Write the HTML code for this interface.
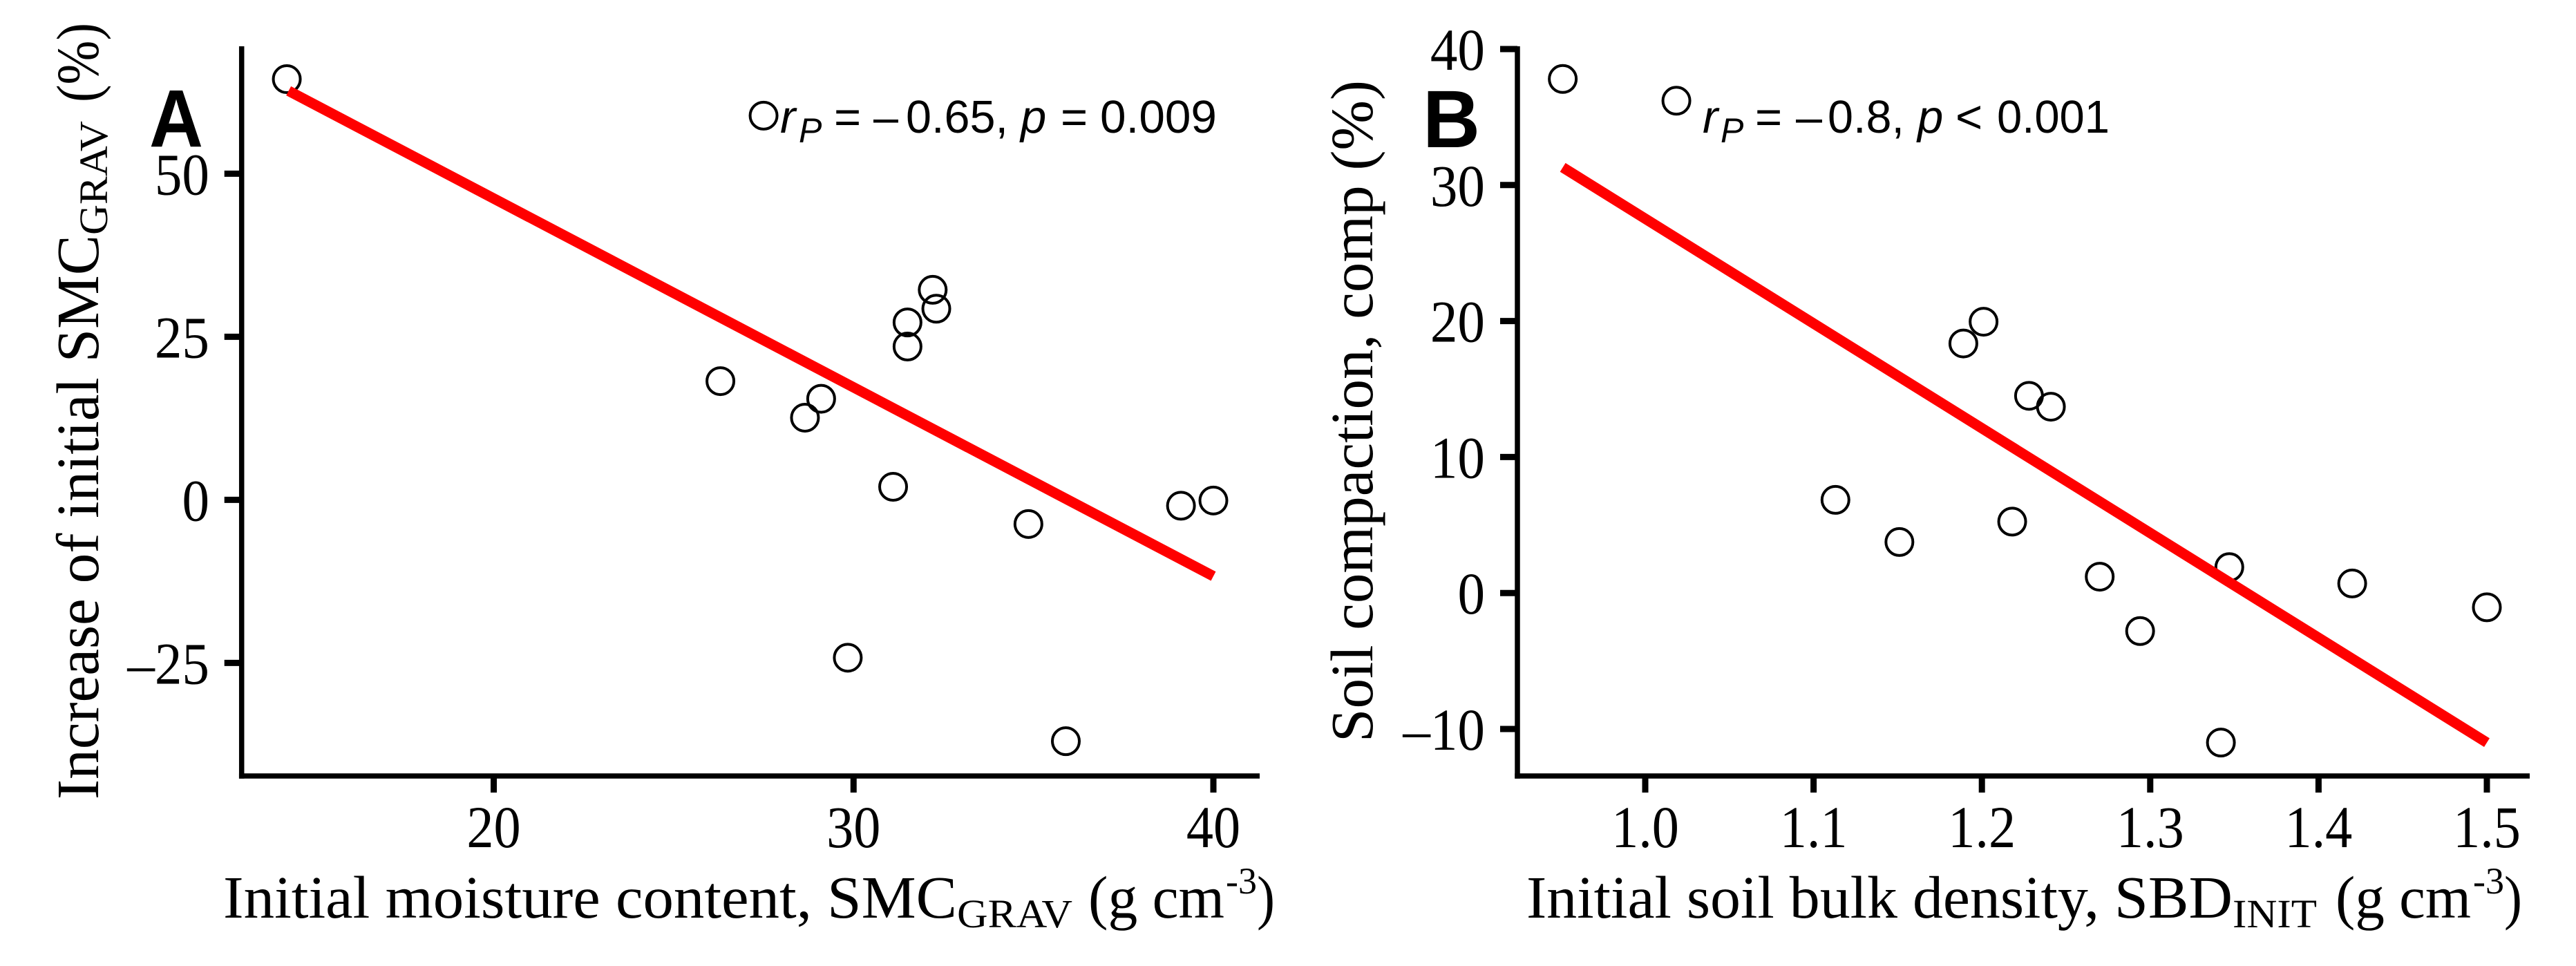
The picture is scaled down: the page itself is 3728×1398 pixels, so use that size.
<!DOCTYPE html>
<html lang="en">
<head>
<meta charset="utf-8">
<title>Soil moisture and compaction scatter plots</title>
<style>
html,body{margin:0;padding:0;background:#fff;width:3728px;height:1398px;overflow:hidden}
svg{display:block}
text{fill:#000}
.serif{font-family:"Liberation Serif",serif}
.sans{font-family:"Liberation Sans",sans-serif}
.title{font-size:87px}
.sub{font-size:58px}
.sup{font-size:54px}
.ann{font-size:67px}
.annsub{font-size:50px}
.it{font-style:italic}
.letter{font-size:118px;font-weight:bold}
.tick{font-size:86px}
</style>
</head>
<body>
<svg id="figure" xmlns="http://www.w3.org/2000/svg" width="3728" height="1398" viewBox="0 0 3728 1398">
  <rect x="0" y="0" width="3728" height="1398" fill="#fff"/>

  <g id="panel-a"></g>
  <g id="panel-b"></g>

  <g class="serif">
    <text class="title" x="323" y="1328" textLength="1062" lengthAdjust="spacingAndGlyphs">Initial moisture content, SMC</text>
    <text class="sub" x="1385" y="1342" textLength="167" lengthAdjust="spacingAndGlyphs">GRAV</text>
    <text class="title" x="1575" y="1328" textLength="197" lengthAdjust="spacingAndGlyphs">(g cm</text>
    <text class="sup" x="1774" y="1293" textLength="45" lengthAdjust="spacingAndGlyphs">-3</text>
    <text class="title" x="1819" y="1328" textLength="26" lengthAdjust="spacingAndGlyphs">)</text>
  </g>
  <g class="serif">
    <text class="title" transform="translate(142,1157) rotate(-90)" textLength="817" lengthAdjust="spacingAndGlyphs">Increase of initial SMC</text>
    <text class="sub" transform="translate(155,340) rotate(-90)" textLength="165" lengthAdjust="spacingAndGlyphs">GRAV</text>
    <text class="title" transform="translate(142,148) rotate(-90)" textLength="115" lengthAdjust="spacingAndGlyphs">(%)</text>
  </g>
  <text class="sans letter" x="216" y="212" textLength="78" lengthAdjust="spacingAndGlyphs">A</text>
  <g class="sans">
    <text class="ann it" x="1129" y="192">r</text>
    <text class="annsub it" x="1156" y="206">P</text>
    <text class="ann" x="1207" y="192">=</text>
    <text class="ann" x="1264" y="192" textLength="36" lengthAdjust="spacingAndGlyphs">–</text>
    <text class="ann" x="1311" y="192" textLength="148" lengthAdjust="spacingAndGlyphs">0.65,</text>
    <text class="ann it" x="1477" y="192">p</text>
    <text class="ann" x="1535" y="192">=</text>
    <text class="ann" x="1592" y="192" textLength="169" lengthAdjust="spacingAndGlyphs">0.009</text>
  </g>

  <g class="serif">
    <text class="title" x="2209" y="1328" textLength="1022" lengthAdjust="spacingAndGlyphs">Initial soil bulk density, SBD</text>
    <text class="sub" x="3231" y="1342" textLength="122" lengthAdjust="spacingAndGlyphs">INIT</text>
    <text class="title" x="3380" y="1328" textLength="196" lengthAdjust="spacingAndGlyphs">(g cm</text>
    <text class="sup" x="3579" y="1293" textLength="45" lengthAdjust="spacingAndGlyphs">-3</text>
    <text class="title" x="3624" y="1328" textLength="26" lengthAdjust="spacingAndGlyphs">)</text>
  </g>
  <text class="serif title" transform="translate(1986,1074) rotate(-90)" textLength="958" lengthAdjust="spacingAndGlyphs">Soil compaction, comp (%)</text>
  <text class="sans letter" x="2059" y="213" textLength="83" lengthAdjust="spacingAndGlyphs">B</text>
  <g class="sans">
    <text class="ann it" x="2464" y="192">r</text>
    <text class="annsub it" x="2490" y="206">P</text>
    <text class="ann" x="2540" y="192">=</text>
    <text class="ann" x="2599" y="192" textLength="38" lengthAdjust="spacingAndGlyphs">–</text>
    <text class="ann" x="2645" y="192" textLength="111" lengthAdjust="spacingAndGlyphs">0.8,</text>
    <text class="ann it" x="2775" y="192">p</text>
    <text class="ann" x="2830" y="192">&lt;</text>
    <text class="ann" x="2890" y="192" textLength="163" lengthAdjust="spacingAndGlyphs">0.001</text>
  </g>
</svg>

<script>
const aTickX = [20, 30, 40];
const aTickY = [50, 25, 0, -25];
const aPointX = [14.25, 26.3, 28.65, 29.1, 29.84, 31.1, 31.5, 31.5, 32.2, 32.3, 34.86, 35.9, 39.1, 40, 27.5];
const aPointY = [64.5, 18.2, 12.6, 15.5, -24.2, 2.0, 27.2, 23.5, 32.2, 29.3, -3.7, -37, -0.9, -0.1, 58.9];
const aFitX = [14.3, 40];
const aFitY = [62.7, -11.7];

const bTickX = [1.0, 1.1, 1.2, 1.3, 1.4, 1.5];
const bTickY = [40, 30, 20, 10, 0, -10];
const bPointX = [0.951, 1.0185, 1.113, 1.151, 1.189, 1.201, 1.218, 1.228, 1.241, 1.27, 1.294, 1.342, 1.347, 1.42, 1.5];
const bPointY = [37.8, 36.2, 6.85, 3.75, 18.35, 19.95, 5.25, 14.5, 13.7, 1.2, -2.8, -11, 1.9, 0.7, -1.05];
const bFitX = [0.951, 1.5];
const bFitY = [31.3, -11];

const SVGNS = 'http://www.w3.org/2000/svg';

function make(parent, tag, attrs) {
  const el = document.createElementNS(SVGNS, tag);
  for (const k in attrs) el.setAttribute(k, attrs[k]);
  parent.appendChild(el);
  return el;
}

function linear(v0, p0, v1, p1) {
  return function (v) { return p0 + (v - v0) * (p1 - p0) / (v1 - v0); };
}

function fmtY(v) { return v < 0 ? '–' + Math.abs(v) : String(v); }

function drawPanel(g, cfg) {
  const x = cfg.x, y = cfg.y;
  const axisW = 7.5;

  const yAxis = make(g, 'line', { x1: cfg.left, x2: cfg.left, y1: 67, y2: cfg.bottom + axisW / 2, stroke: '#000', 'stroke-width': axisW });
  
  

  const xAxis = make(g, 'line', { x1: cfg.left - axisW / 2, x2: cfg.right, y1: cfg.bottom, y2: cfg.bottom, stroke: '#000', 'stroke-width': axisW });
  
  

  cfg.tickX.forEach(function (v) {
    const t = make(g, 'line', { x1: x(v), x2: x(v), y1: cfg.bottom, y2: cfg.bottom + 24, stroke: '#000', 'stroke-width': 9 });
    
    
    const l = make(g, 'text', { x: x(v), y: 1226, 'text-anchor': 'middle', 'class': 'serif tick' });
    
    
    l.textContent = cfg.fmtX(v);
    l.setAttribute('textLength', l.getComputedTextLength() * 0.91);
    l.setAttribute('lengthAdjust', 'spacingAndGlyphs');
  });

  cfg.tickY.forEach(function (v) {
    const t = make(g, 'line', { x1: cfg.left, x2: cfg.left - 25, y1: y(v), y2: y(v), stroke: '#000', 'stroke-width': 9 });
    
    
    const l = make(g, 'text', { x: cfg.labelRight, y: y(v) + 30, 'text-anchor': 'end', 'class': 'serif tick' });
    
    
    l.textContent = fmtY(v);
    l.setAttribute('textLength', l.getComputedTextLength() * 0.92);
    l.setAttribute('lengthAdjust', 'spacingAndGlyphs');
  });

  cfg.pointX.forEach(function (v, i) {
    const c = make(g, 'circle', { cx: x(v), cy: y(cfg.pointY[i]), r: 19.5, fill: 'none', stroke: '#000', 'stroke-width': 4 });
    
    
  });

  const fit = make(g, 'line', {
    x1: x(cfg.fitX[0]), y1: y(cfg.fitY[0]),
    x2: x(cfg.fitX[1]), y2: y(cfg.fitY[1]),
    stroke: '#f00', 'stroke-width': 15
  });
  
  
}

drawPanel(document.getElementById('panel-a'), {
  x: linear(20, 714.5, 40, 1756),
  y: linear(50, 251.4, -25, 959.4),
  left: 349.7, right: 1823, bottom: 1123, labelRight: 303,
  tickX: aTickX, tickY: aTickY,
  pointX: aPointX, pointY: aPointY,
  fitX: aFitX, fitY: aFitY,
  fmtX: function (v) { return String(v); }
});

drawPanel(document.getElementById('panel-b'), {
  x: linear(1.0, 2381, 1.5, 3599),
  y: linear(40, 71, -10, 1055),
  left: 2196, right: 3661, bottom: 1123, labelRight: 2149,
  tickX: bTickX, tickY: bTickY,
  pointX: bPointX, pointY: bPointY,
  fitX: bFitX, fitY: bFitY,
  fmtX: function (v) { return v.toFixed(1); }
});
</script>
</body>
</html>
